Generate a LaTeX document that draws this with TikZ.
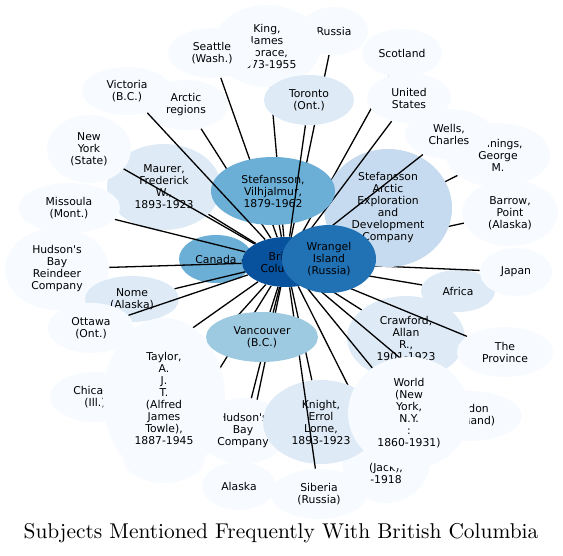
\documentclass[tikz,border=0pt]{standalone}
\usepackage{fontspec}
\newfontfamily\knotenfont{DejaVu Sans}
\usetikzlibrary{shapes.geometric}
\definecolor{stufeA}{HTML}{08519C}
\definecolor{stufeB}{HTML}{2171B5}
\definecolor{stufeC}{HTML}{6BAED6}
\definecolor{stufeD}{HTML}{9ECAE1}
\definecolor{stufeE}{HTML}{C6DBEF}
\definecolor{stufeF}{HTML}{DEEBF7}
\definecolor{stufeG}{HTML}{F7FBFF}
\begin{document}
\begin{tikzpicture}[x=0.5pt, y=-0.5pt,
	blase/.style={ellipse, inner sep=0pt, align=center,
		font={\knotenfont\fontsize{5.4}{6}\selectfont}},
	gr/.style 2 args={minimum width=#1pt, minimum height=#2pt},
	kante/.style={line width=0.65pt, black}]
	\useasboundingbox (0,0) rectangle (563,556);
	% Mitte (nur Rand fuer die Kanten)
	\node[blase, gr={44}{25}] (bc) at (286,262) {};
	% Knoten mit Kanten, von hinten nach vorne
	\node[blase, gr={37}{24}, fill=stufeC] (canada) at (216,259) {Canada};
	\draw[kante] (bc) -- (canada);
	\node[blase, gr={37}{21}, fill=stufeF] (africa) at (458,291) {Africa};
	\draw[kante] (bc) -- (africa);
	\node[blase, gr={36}{24}, fill=stufeG] (japan) at (516,272) {Japan};
	\draw[kante] (bc) -- (japan);
	\node[blase, gr={48}{33}, fill=stufeG] (barrow) at (510,213) {Barrow,\\Point\\(Alaska)};
	\draw[kante] (bc) -- (barrow);
	\node[blase, gr={52}{32}, fill=stufeG] (jennings) at (498,155) {Jennings,\\George\\M.};
	\draw[kante] (bc) -- (jennings);
	\node[blase, gr={40}{24}, fill=stufeG] (scotland) at (402,53) {Scotland};
	\draw[kante] (bc) -- (scotland);
	\node[blase, gr={64}{59}, fill=stufeE] (stefarctic) at (388,208)
		{Stefansson\\Arctic\\Exploration\\and\\Development\\Company};
	\draw[kante] (bc) -- (stefarctic);
	\node[blase, gr={42}{25}, fill=stufeG] (usa) at (409,98) {United\\States};
	\draw[kante] (bc) -- (usa);
	\node[blase, gr={44}{25}, fill=stufeG] (wells) at (449,134) {Wells,\\Charles};
	\draw[kante] (bc) -- (wells);
	\node[blase, gr={34}{24}, fill=stufeG] (russia) at (334,31) {Russia};
	\draw[kante] (bc) -- (russia);
	\node[blase, gr={54}{41}, fill=stufeG] (king) at (267,46) {King,\\James\\Horace,\\1873-1955};
	\draw[kante] (bc) -- (king);
	\node[blase, gr={44}{25}, fill=stufeG] (seattle) at (212,53) {Seattle\\(Wash.)};
	\draw[kante] (bc) -- (seattle);
	\node[blase, gr={42}{25}, fill=stufeG] (arctic) at (186,105) {Arctic\\regions};
	\draw[kante] (bc) -- (arctic);
	\node[blase, gr={57}{43}, fill=stufeF] (maurer) at (164,187) {Maurer,\\Frederick\\W.,\\1893-1923};
	\draw[kante] (bc) -- (maurer);
	\node[blase, gr={62}{34}, fill=stufeC] (stefv) at (273,191) {Stefansson,\\Vilhjalmur,\\1879-1962};
	\draw[kante] (bc) -- (stefv);
	\node[blase, gr={45}{25}, fill=stufeF] (toronto) at (309,100) {Toronto\\(Ont.)};
	\draw[kante] (bc) -- (toronto);
	\node[blase, gr={45}{24}, fill=stufeG] (victoria) at (127,91) {Victoria\\(B.C.)};
	\draw[kante] (bc) -- (victoria);
	\node[blase, gr={42}{34}, fill=stufeG] (newyork) at (89,149) {New\\York\\(State)};
	\draw[kante] (bc) -- (newyork);
	\node[blase, gr={51}{25}, fill=stufeG] (missoula) at (69,208) {Missoula\\(Mont.)};
	\draw[kante] (bc) -- (missoula);
	\node[blase, gr={52}{41}, fill=stufeG] (reindeer) at (57,269) {Hudson's\\Bay\\Reindeer\\Company};
	\draw[kante] (bc) -- (reindeer);
	\node[blase, gr={47}{23}, fill=stufeF] (nome) at (132,299) {Nome\\(Alaska)};
	\draw[kante] (bc) -- (nome);
	\node[blase, gr={43}{25}, fill=stufeG] (ottawa) at (91,328) {Ottawa\\(Ont.)};
	\draw[kante] (bc) -- (ottawa);
	\node[blase, gr={45}{25}, fill=stufeG] (chicago) at (95,397) {Chicago\\(Ill.)};
	\draw[kante] (bc) -- (chicago);
	\node[blase, gr={41}{25}, fill=stufeG] (verdeckt) at (164,458) {};
	\draw[kante] (bc) -- (verdeckt);
	\node[blase, gr={37}{24}, fill=stufeG] (alaska) at (239,486) {Alaska};
	\draw[kante] (bc) -- (alaska);
	\node[blase, gr={45}{33}, fill=stufeG] (hbc) at (243,431) {Hudson's\\Bay\\Company};
	\draw[kante] (bc) -- (hbc);
	\node[blase, gr={61}{80}, fill=stufeG] (taylor) at (164,398)
		{Taylor,\\A.\\J.\\T.\\(Alfred\\James\\Towle),\\1887-1945};
	\draw[kante] (bc) -- (taylor);
	\node[blase, gr={44}{42}, fill=stufeG] (hadley) at (386,461) {};
	\node[blase] (hadleytext) at (386,473) {(Jack),\\-1918};
	\draw[kante] (bc) -- (hadley);
	\node[blase, gr={58}{42}, fill=stufeF] (knight) at (321,422) {Knight,\\Errol\\Lorne,\\1893-1923};
	\draw[kante] (bc) -- (knight);
	\node[blase, gr={48}{25}, fill=stufeG] (siberia) at (319,494) {Siberia\\(Russia)};
	\draw[kante] (bc) -- (siberia);
	\node[blase, gr={59}{42}, fill=stufeF] (crawford) at (406,338) {Crawford,\\Allan\\R.,\\1901-1923};
	\draw[kante] (bc) -- (crawford);
	\node[blase, gr={48}{25}, fill=stufeG] (province) at (505,352) {The\\Province};
	\draw[kante] (bc) -- (province);
	\node[blase, gr={53}{25}, fill=stufeG] (london) at (469,416) {London\\(England)};
	\draw[kante] (bc) -- (london);
	\node[blase, gr={61}{56}, fill=stufeG] (world) at (409,413) {World\\(New\\York,\\N.Y.\\:\\1860-1931)};
	\draw[kante] (bc) -- (world);
	\node[blase, gr={56}{25}, fill=stufeD] (vancouver) at (262,337) {Vancouver\\(B.C.)};
	\draw[kante] (bc) -- (vancouver);
	% Mitte oben drauf
	\node[blase, gr={44}{25}, fill=stufeA] (bcfarbe) at (bc) {British\\Columbia};
	\node[blase, gr={47}{34}, fill=stufeB] (wrangel) at (329,259) {Wrangel\\Island\\(Russia)};
	% Titel
	\node[font=\fontsize{10.7}{13}\selectfont] (titel) at (281,533)
		{Subjects Mentioned Frequently With British Columbia};
\end{tikzpicture}
\end{document}
